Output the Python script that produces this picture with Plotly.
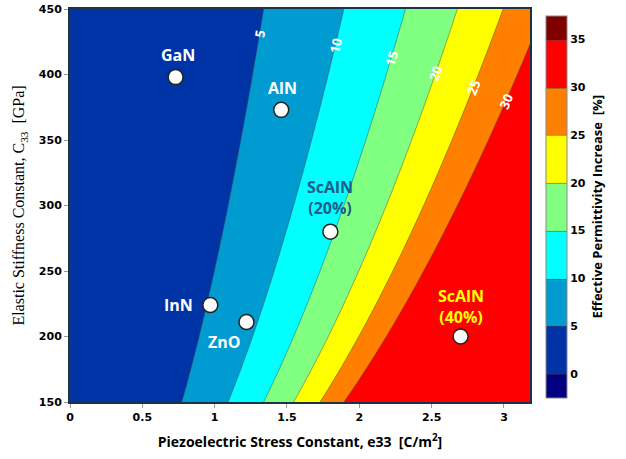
import numpy as np
import plotly.graph_objects as go

# ---- data ----
materials = ["GaN", "AlN", "ScAlN<br>(20%)", "InN", "ZnO", "ScAlN<br>(40%)"]
e33_vals = [0.73, 1.46, 1.80, 0.97, 1.22, 2.70]        # C/m^2
c33_vals = [398, 373, 280, 224, 211, 200]               # GPa
label_colors = ["white", "white", "#1F5C8A", "white", "white", "#FFFF00"]
label_shifts = [(2, 22), (1, 22), (0, 34), (-32, 0), (-22, -20), (0, 30)]

contour_levels = [5, 10, 15, 20, 25, 30]
contour_label_c33 = [431, 422, 412, 401, 390, 380]      # where labels sit

band_colors = ["#000080", "#0033A6", "#009BD0", "#00FFFF", "#80FF80",
               "#FFFF00", "#FF8000", "#FF0000", "#800000"]

EPS0 = 8.854e-12
EPS_R = 9.0        # relative permittivity assumed for the map
Z_CAP = 34.9       # the map saturates inside the 30-35 band

X_MAX = 3.18
e_grid = np.linspace(0, X_MAX, 220)
c_grid = np.linspace(150, 450, 160)
E, C = np.meshgrid(e_grid, c_grid)
# effective permittivity increase (%) = e33^2 / (eps * C33)
Z = np.minimum(100 * E**2 / (EPS0 * EPS_R * C * 1e9), Z_CAP)

n = len(band_colors) - 1
colorscale = [[i / n, col] for i, col in enumerate(band_colors)]

W, H = 626, 459
ML, MR, MT, MB = 70, 96, 9, 57

fig = go.Figure()
fig.add_trace(go.Contour(
    x=e_grid, y=c_grid, z=Z,
    contours=dict(start=0, end=35, size=5, coloring="fill", showlines=True),
    line=dict(color="rgba(70,70,70,0.6)", width=0.8),
    colorscale=colorscale,
    colorbar=dict(
        x=1.035, xanchor="left", xpad=0, y=0.497, yanchor="middle", ypad=0,
        len=0.972, thickness=21,
        outlinecolor="#888888", outlinewidth=1,
        tickvals=[0, 5, 10, 15, 20, 25, 30, 35],
        ticks="", ticklabelposition="outside",
        tickfont=dict(family="DejaVu Sans", size=11, color="black", weight="bold"),
        title=dict(text="Effective Permittivity Increase  [%]", side="right",
                   font=dict(family="Open Sans", size=13, color="black", weight="bold")),
    ),
    hoverinfo="skip",
))

fig.add_trace(go.Scatter(
    x=e33_vals, y=c33_vals, mode="markers",
    marker=dict(size=15, color="white", line=dict(color="#222222", width=1.5)),
    hoverinfo="skip", showlegend=False,
))

annotations = []
for name, ex, cy, col, (dx, dy) in zip(materials, e33_vals, c33_vals, label_colors, label_shifts):
    annotations.append(dict(
        x=ex, y=cy, xref="x", yref="y", text=name, showarrow=False,
        xshift=dx, yshift=dy,
        font=dict(family="Open Sans", size=16, color=col, weight="bold"),
    ))

# contour labels placed on the level lines
plot_w = W - ML - MR
plot_h = H - MT - MB
px_per_x = plot_w / X_MAX
px_per_c = plot_h / 300.0
k = 100 / (EPS0 * EPS_R * 1e9)
for lev, cy in zip(contour_levels, contour_label_c33):
    ex = np.sqrt(lev * cy / k)
    dxdc = ex / (2 * cy)
    slope = dxdc * px_per_x / px_per_c       # horizontal px per vertical px
    ang = -(90 - np.degrees(np.arctan(slope)))
    annotations.append(dict(
        x=ex, y=cy, xref="x", yref="y", text=str(lev), showarrow=False,
        textangle=ang,
        font=dict(family="Open Sans", size=13, color="white", weight="bold"),
    ))

fig.update_layout(
    width=W, height=H,
    margin=dict(l=ML, r=MR, t=MT, b=MB, autoexpand=False),
    paper_bgcolor="white", plot_bgcolor="white",
    annotations=annotations,
    showlegend=False,
    xaxis=dict(
        range=[0, X_MAX], tickvals=[0, 0.5, 1, 1.5, 2, 2.5, 3],
        ticktext=["0", "0.5", "1", "1.5", "2", "2.5", "3"],
        ticks="outside", ticklen=4, tickcolor="#999999",
        showline=True, mirror=True, linecolor="#1B3347", linewidth=2,
        showgrid=False, zeroline=False, automargin=False,
        tickfont=dict(family="DejaVu Sans", size=11, color="black", weight="bold"),
        title=dict(text="Piezoelectric Stress Constant, e33  [C/m<sup>2</sup>]",
                   standoff=14,
                   font=dict(family="Open Sans", size=14, color="black", weight="bold")),
    ),
    yaxis=dict(
        range=[150, 450], tickvals=[150, 200, 250, 300, 350, 400, 450],
        ticks="outside", ticklen=4, tickcolor="#999999",
        showline=True, mirror=True, linecolor="#1B3347", linewidth=2,
        showgrid=False, zeroline=False, automargin=False,
        tickfont=dict(family="DejaVu Sans", size=11, color="black", weight="bold"),
        title=dict(text="Elastic Stiffness Constant, C<sub>33</sub>  [GPa]",
                   standoff=10,
                   font=dict(family="Liberation Serif", size=16, color="black")),
    ),
)

fig.write_html("out.html",
               config={"displayModeBar": False},
               post_script="document.body.style.margin='0';document.body.style.overflow='hidden';")
